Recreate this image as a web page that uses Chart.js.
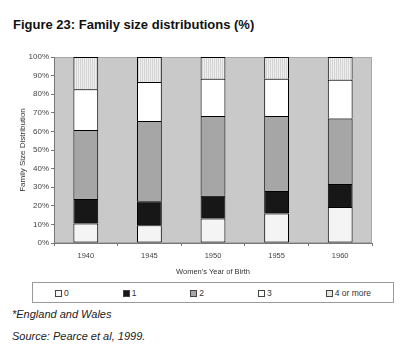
<!DOCTYPE html>
<html>
<head>
<meta charset="utf-8">
<script src="https://cdn.jsdelivr.net/npm/chart.js@4/dist/chart.umd.min.js"></script>
<style>
  body { margin: 0; background: #fff; font-family: 'Liberation Sans', Arial, sans-serif; }
  #wrap { position: relative; width: 400px; height: 352px; overflow: hidden; }
  #title { position: absolute; left: 13px; top: 18px; font-size: 13px; font-weight: bold; line-height: 13px; color: #111; }
  #chartBox { position: absolute; left: 0; top: 0; width: 400px; height: 282px; }
  #legend { position: absolute; left: 54px; top: 282px; width: 316px; height: 19px; border: 1px solid #9a9a9a;
            display: flex; justify-content: space-between; align-items: center; padding: 0 22px; box-sizing: content-box; margin-left: -22px; }
  .item { display: flex; align-items: center; font-size: 8.5px; color: #333; }
  .swatch { width: 5px; height: 5px; border: 1px solid #444; margin-right: 2px; margin-top: 1px; }
  .note { position: absolute; left: 12px; font-size: 11px; font-style: italic; color: #222; line-height: 11px; }
</style>
</head>
<body>
<div id="wrap">
  <div id="title">Figure 23: Family size distributions (%)</div>
  <div id="chartBox"><canvas id="chart"></canvas></div>
  <div id="legend"></div>
  <div class="note" style="top:309px">*England and Wales</div>
  <div class="note" style="top:331px">Source: Pearce et al, 1999.</div>
</div>
<script>
const years = ['1940', '1945', '1950', '1955', '1960']
const seriesNames = ['0', '1', '2', '3', '4 or more']
const zeroChildren = [10.5, 9.5, 13.2, 15.9, 19.4]
const oneChild = [13.1, 13.0, 12.2, 12.0, 12.3]
const twoChildren = [37.2, 43.1, 42.9, 40.4, 35.3]
const threeChildren = [21.9, 20.9, 20.0, 20.0, 20.8]
const fourOrMore = [17.3, 13.5, 11.7, 11.7, 12.2]
const yTicks = [0, 10, 20, 30, 40, 50, 60, 70, 80, 90, 100]

// vertical stripe fill for the "4 or more" segment
function stripePattern() {
  const c = document.createElement('canvas')
  c.width = 2
  c.height = 2
  const p = c.getContext('2d')
  p.fillStyle = '#efefef'
  p.fillRect(0, 0, 2, 2)
  p.fillStyle = '#d4d4d4'
  p.fillRect(0, 0, 1, 2)
  return p.createPattern(c, 'repeat')
}

const fills = ['#f4f4f4', '#171717', '#a6a6a6', '#ffffff', stripePattern()]
const swatchFills = ['#f4f4f4', '#171717', '#a6a6a6', '#ffffff', '#e4e4e4']
const values = [zeroChildren, oneChild, twoChildren, threeChildren, fourOrMore]

// legend boxed under the chart
const legend = document.getElementById('legend')
seriesNames.forEach((name, i) => {
  const item = document.createElement('div')
  item.className = 'item'
  item.innerHTML = `<span class="swatch" style="background:${swatchFills[i]}"></span>${name}`
  legend.appendChild(item)
})

const plotBackground = {
  id: 'plotBackground',
  beforeDraw(chart) {
    const { ctx, chartArea: a } = chart
    ctx.save()
    ctx.fillStyle = '#c9c9c9'
    ctx.fillRect(a.left, a.top, a.right - a.left, a.bottom - a.top)
    ctx.strokeStyle = '#a8a8a8'
    ctx.lineWidth = 1
    ctx.strokeRect(a.left + 0.5, a.top + 0.5, a.right - a.left - 1, a.bottom - a.top - 1)
    ctx.restore()
  }
}

const tickFont = { size: 7.5, family: "'Liberation Sans', Arial, sans-serif" }
const yFont = { size: 8, family: "'Liberation Sans', Arial, sans-serif" }

new Chart(document.getElementById('chart'), {
  type: 'bar',
  data: {
    labels: years,
    datasets: seriesNames.map((name, i) => ({
      label: name,
      data: values[i],
      backgroundColor: fills[i],
      borderColor: '#000',
      // single line between stacked segments
      borderWidth: { top: 1, left: 1, right: 1, bottom: i === 0 ? 1 : 0 },
      borderSkipped: false,
      categoryPercentage: 1,
      barPercentage: 0.39
    }))
  },
  options: {
    responsive: true,
    maintainAspectRatio: false,
    animation: false,
    layout: { padding: { top: 57, right: 28, left: 0, bottom: 0 } },
    plugins: {
      legend: { display: false },
      tooltip: { enabled: false }
    },
    scales: {
      x: {
        stacked: true,
        afterFit: scale => { scale.height = 39 },
        grid: { offset: true, drawOnChartArea: false, drawTicks: true, tickLength: 3, color: '#777' },
        border: { color: '#777' },
        ticks: { color: '#444', font: tickFont, padding: 5 },
        title: {
          display: true,
          text: "Women's Year of Birth",
          color: '#333',
          font: tickFont,
          padding: { top: 0, bottom: 5.5 }
        }
      },
      y: {
        stacked: true,
        min: 0,
        max: 100,
        afterFit: scale => { scale.width = 54 },
        afterBuildTicks: scale => { scale.ticks = yTicks.map(v => ({ value: v })) },
        grid: { drawOnChartArea: false, drawTicks: true, tickLength: 3, color: '#777' },
        border: { color: '#777' },
        ticks: { color: '#444', font: yFont, padding: 2, callback: v => v + '%' },
        title: {
          display: true,
          text: 'Family Size Distribution',
          color: '#333',
          font: yFont,
          padding: { top: 18, bottom: 0 }
        }
      }
    }
  },
  plugins: [plotBackground]
})
</script>
</body>
</html>
